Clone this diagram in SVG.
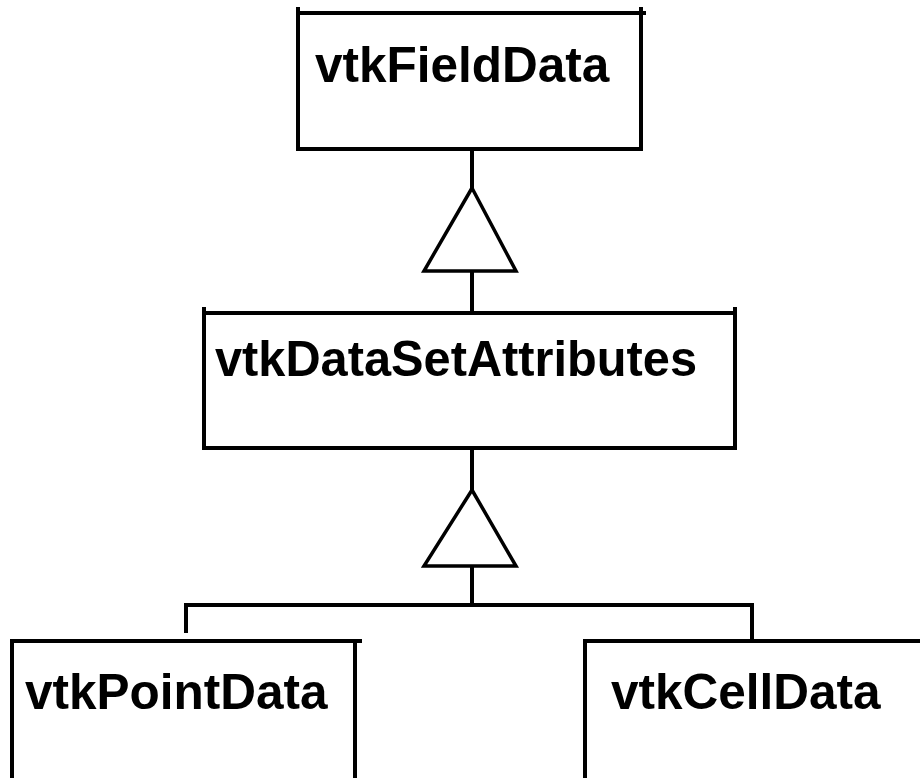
<svg xmlns="http://www.w3.org/2000/svg" width="920" height="778" viewBox="0 0 920 778">
<style>
.box{fill:#fff;stroke:#000;stroke-width:4}
.ln{fill:none;stroke:#000;stroke-width:4}
.tri{fill:#fff;stroke:#000;stroke-width:3.5;stroke-linejoin:miter}
.lbl{font-family:"Liberation Sans",Arial,sans-serif;font-weight:bold;font-size:49.5px;fill:#000}
</style>
<rect width="920" height="778" fill="#fff"/>
<g id="connectors">
<line class="ln" x1="472" y1="149" x2="472" y2="188"/>
<line class="ln" x1="472" y1="271" x2="472" y2="313"/>
<polygon class="tri" points="472,188 424,271 516,271"/>
<line class="ln" x1="472" y1="448" x2="472" y2="490"/>
<polygon class="tri" points="472,490 424,566 516,566"/>
<polyline class="ln" points="472,566 472,605"/>
<polyline class="ln" points="186,633 186,605 752,605 752,641"/>
</g>
<g id="vtkFieldData">
<rect class="box" x="298" y="13" width="343" height="136"/>
<polyline class="ln" points="641,13 646,13"/>
<line class="ln" x1="298" y1="7" x2="298" y2="13"/>
<line class="ln" x1="641" y1="7" x2="641" y2="13"/>
<text class="lbl" x="315" y="82">vtkFieldData</text>
</g>
<g id="vtkDataSetAttributes">
<rect class="box" x="204" y="313" width="531" height="135"/>
<line class="ln" x1="204" y1="307" x2="204" y2="313"/>
<line class="ln" x1="735" y1="307" x2="735" y2="313"/>
<text class="lbl" x="215" y="376" textLength="482" lengthAdjust="spacingAndGlyphs">vtkDataSetAttributes</text>
</g>
<g id="vtkPointData">
<polyline class="ln" points="12,790 12,641 362,641"/>
<line class="ln" x1="355" y1="641" x2="355" y2="790"/>
<text class="lbl" x="25" y="709">vtkPointData</text>
</g>
<g id="vtkCellData">
<polyline class="ln" points="585,790 585,641 925,641"/>
<text class="lbl" x="611" y="709">vtkCellData</text>
</g>
</svg>
